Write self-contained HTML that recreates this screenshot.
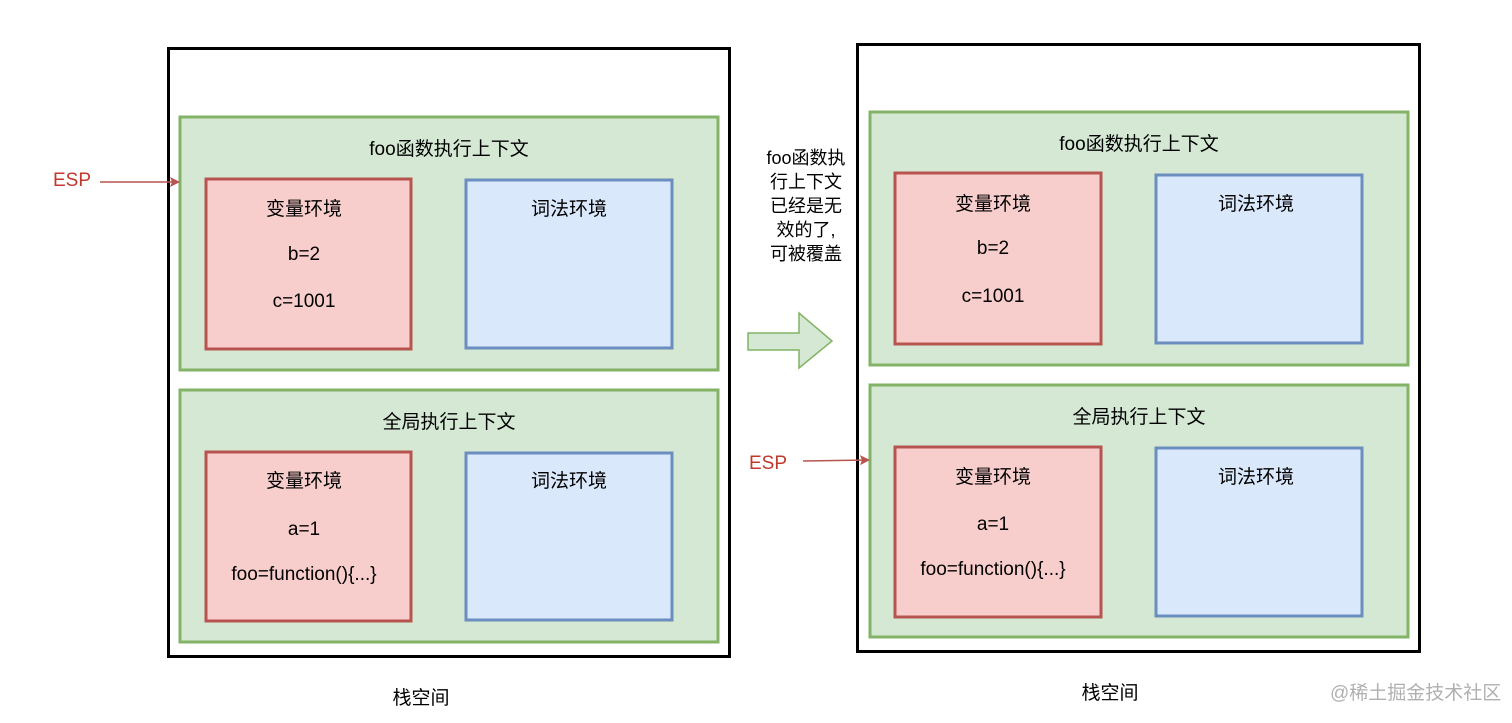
<!DOCTYPE html>
<html><head><meta charset="utf-8"><style>
html,body{margin:0;padding:0;background:#fff;}
svg{display:block;}
text{font-family:"Liberation Sans","Noto Sans CJK SC",sans-serif;font-size:19px;fill:#000;}
</style></head><body>
<svg width="1512" height="723" viewBox="0 0 1512 723" xmlns="http://www.w3.org/2000/svg">
<defs>
<marker id="ah" markerWidth="10" markerHeight="10" refX="9" refY="5" orient="auto" markerUnits="userSpaceOnUse">
<path d="M0,0 L10,5 L0,10 L2,5 Z" fill="#b85450"/></marker>
</defs>
<!-- Left -->
<rect x="168.5" y="48.5" width="561" height="608" fill="#fff" stroke="#000" stroke-width="3"/>
<rect x="180" y="117" width="538" height="253" fill="#d5e8d4" stroke="#82b366" stroke-width="3"/>
<rect x="206" y="179" width="205" height="170" fill="#f8cecc" stroke="#b85450" stroke-width="3"/>
<rect x="466" y="180" width="206" height="168" fill="#dae8fc" stroke="#6c8ebf" stroke-width="3"/>
<rect x="180" y="390" width="538" height="252" fill="#d5e8d4" stroke="#82b366" stroke-width="3"/>
<rect x="206" y="452" width="205" height="169" fill="#f8cecc" stroke="#b85450" stroke-width="3"/>
<rect x="466" y="453" width="206" height="167" fill="#dae8fc" stroke="#6c8ebf" stroke-width="3"/>
<g text-anchor="middle">
<text x="449" y="155">foo函数执行上下文</text>
<text x="304" y="215">变量环境</text>
<text x="304" y="260">b=2</text>
<text x="304" y="307">c=1001</text>
<text x="569" y="215">词法环境</text>
<text x="449" y="428">全局执行上下文</text>
<text x="304" y="487">变量环境</text>
<text x="304" y="535">a=1</text>
<text x="304" y="580">foo=function(){...}</text>
<text x="569" y="487">词法环境</text>
<text x="421" y="704">栈空间</text>
</g>
<text x="53" y="186" style="fill:#c0392b">ESP</text>
<line x1="100" y1="182" x2="179" y2="182" stroke="#b85450" stroke-width="1.5" marker-end="url(#ah)"/>

<!-- Middle -->
<path d="M748,333 L799,333 L799,313 L832,341 L799,368 L799,350 L748,350 Z" fill="#d5e8d4" stroke="#82b366" stroke-width="1.5"/>
<g text-anchor="middle" style="font-size:18px">
<text x="806" y="164" style="font-size:18px">foo函数执</text>
<text x="806" y="188" style="font-size:18px">行上下文</text>
<text x="806" y="212" style="font-size:18px">已经是无</text>
<text x="806" y="236" style="font-size:18px">效的了,</text>
<text x="806" y="260" style="font-size:18px">可被覆盖</text>
</g>

<!-- Right -->
<rect x="857.5" y="44.5" width="562" height="607" fill="#fff" stroke="#000" stroke-width="3"/>
<rect x="870" y="112" width="538" height="253" fill="#d5e8d4" stroke="#82b366" stroke-width="3"/>
<rect x="895" y="173" width="206" height="171" fill="#f8cecc" stroke="#b85450" stroke-width="3"/>
<rect x="1156" y="175" width="206" height="168" fill="#dae8fc" stroke="#6c8ebf" stroke-width="3"/>
<rect x="870" y="385" width="538" height="252" fill="#d5e8d4" stroke="#82b366" stroke-width="3"/>
<rect x="895" y="447" width="206" height="170" fill="#f8cecc" stroke="#b85450" stroke-width="3"/>
<rect x="1156" y="448" width="206" height="168" fill="#dae8fc" stroke="#6c8ebf" stroke-width="3"/>
<g text-anchor="middle">
<text x="1139" y="150">foo函数执行上下文</text>
<text x="993" y="210">变量环境</text>
<text x="993" y="254">b=2</text>
<text x="993" y="302">c=1001</text>
<text x="1256" y="210">词法环境</text>
<text x="1139" y="423">全局执行上下文</text>
<text x="993" y="483">变量环境</text>
<text x="993" y="530">a=1</text>
<text x="993" y="575">foo=function(){...}</text>
<text x="1256" y="483">词法环境</text>
<text x="1110" y="699">栈空间</text>
</g>
<text x="749" y="469" style="fill:#c0392b">ESP</text>
<line x1="803" y1="461" x2="869" y2="460" stroke="#b85450" stroke-width="1.5" marker-end="url(#ah)"/>

<text x="1330" y="699" style="fill:#b0b0b0;font-size:19px">@稀土掘金技术社区</text>
</svg>
</body></html>
